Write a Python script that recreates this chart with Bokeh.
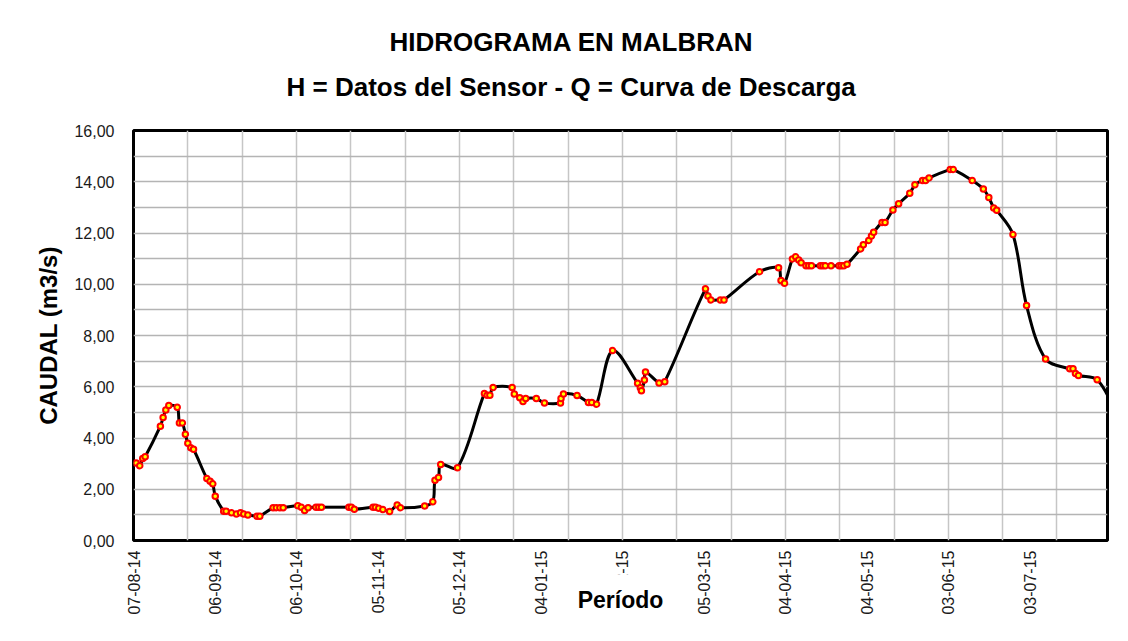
import numpy as np
from datetime import datetime
from bokeh.plotting import figure
from bokeh.models import Range1d, FixedTicker, Title, CustomJSTickFormatter, SingleIntervalTicker
from bokeh.embed import file_html
from bokeh.resources import INLINE

# ---------------- data ----------------
fecha_inicio = "07-08-14"   # origin of the period axis (dd-mm-yy)

# days elapsed since fecha_inicio
dias = [1.0, 2.3, 3.4, 4.3, 9.9, 10.9, 11.9, 13.0, 16.1, 16.9, 18.0, 19.1, 20.0, 21.1, 22.1,
        27.0, 28.2, 29.2, 30.1, 33.2, 34.1, 36.1, 37.9, 39.4, 40.6, 42.1, 45.5, 46.5,
        51.4, 52.6, 53.9, 55.1, 60.5, 61.8, 63.0, 64.3, 67.2, 68.2, 69.2, 79.3, 80.2, 81.3,
        88.2, 89.1, 90.3, 91.8, 94.3, 97.1, 98.3, 107.2, 110.2, 111.0, 112.3, 113.1, 119.3,
        129.2, 130.2, 131.2, 132.4, 139.4, 140.2, 142.2, 143.4, 144.4, 148.3, 151.3, 157.2,
        157.4, 158.3, 163.3, 167.5, 168.7, 170.5, 176.4, 185.6, 186.6, 187.0, 188.1, 188.5,
        193.5, 195.6, 210.6, 211.5, 212.6, 216.1, 217.4, 230.5, 237.5, 238.4, 239.7, 242.6,
        243.8, 244.9, 245.8, 247.6, 248.6, 249.6, 252.9, 253.8, 254.7, 256.8, 259.8, 260.6,
        261.5, 262.7, 267.7, 268.7, 270.7, 271.7, 272.5, 275.6, 276.7, 279.6, 281.7, 285.8,
        287.7, 290.5, 291.6, 292.9, 300.7, 301.8, 308.8, 312.9, 314.9, 316.7, 317.8, 323.8,
        328.8, 335.8, 344.7, 345.9, 346.8, 347.9, 354.8, 361.0]

caudal = [3.02, 2.92, 3.20, 3.27, 4.46, 4.80, 5.09, 5.27, 5.20, 4.59, 4.59, 4.15, 3.80, 3.62, 3.56,
          2.42, 2.31, 2.21, 1.73, 1.14, 1.14, 1.08, 1.03, 1.08, 1.03, 1.00, 0.95, 0.95,
          1.28, 1.28, 1.28, 1.28, 1.36, 1.30, 1.17, 1.28, 1.30, 1.30, 1.30, 1.30, 1.30, 1.22,
          1.30, 1.30, 1.26, 1.21, 1.13, 1.39, 1.28, 1.35, 1.51, 2.35, 2.46, 2.97, 2.84,
          5.74, 5.67, 5.67, 5.97, 5.97, 5.72, 5.57, 5.42, 5.54, 5.54, 5.37, 5.37,
          5.54, 5.72, 5.66, 5.39, 5.39, 5.32, 7.41, 6.14, 5.96, 5.84, 6.26, 6.58,
          6.15, 6.20, 9.82, 9.54, 9.39, 9.39, 9.39, 10.49, 10.64, 10.15, 10.04, 10.99,
          11.07, 10.95, 10.84, 10.72, 10.72, 10.72, 10.72, 10.72, 10.72, 10.72, 10.72, 10.72,
          10.72, 10.78, 11.38, 11.54, 11.71, 11.88, 12.03, 12.41, 12.41, 12.90, 13.14, 13.55,
          13.88, 14.05, 14.05, 14.15, 14.48, 14.48, 14.05, 13.72, 13.39, 12.98, 12.89, 11.94,
          9.17, 7.08, 6.70, 6.70, 6.52, 6.44, 6.27, 5.20]

etiquetas_x = ["07-08-14", "06-09-14", "06-10-14", "05-11-14", "05-12-14", "04-01-15",
               "03-02-15", "05-03-15", "04-04-15", "04-05-15", "03-06-15", "03-07-15"]

titulo_1 = "HIDROGRAMA EN MALBRAN"
titulo_2 = "H = Datos del Sensor - Q = Curva de Descarga"
titulo_y = "CAUDAL (m3/s)"
titulo_x = "Período"

# ---------------- layout ----------------
W, H = 1128, 641
FL, FR, FT, FB = 133, 1107, 130, 540        # frame edges in pixels
X_END = 358.6
Y_MAX = 16
FONT = "Liberation Sans"

t0 = datetime.strptime(fecha_inicio, "%d-%m-%y")
tick_pos = [(datetime.strptime(s, "%d-%m-%y") - t0).days for s in etiquetas_x]

p = figure(width=W, height=H, output_backend="svg", toolbar_location=None,
           x_range=Range1d(0, X_END), y_range=Range1d(0, Y_MAX),
           min_border_left=FL, min_border_right=W - FR,
           min_border_top=FT, min_border_bottom=H - FB)
p.background_fill_color = "white"
p.border_fill_color = "white"
p.outline_line_color = "black"
p.outline_line_width = 3

# grid
p.xgrid.ticker = FixedTicker(ticks=list(range(0, 360, 20)))
p.ygrid.ticker = SingleIntervalTicker(interval=1)
p.xgrid.grid_line_color = "#c6c6c6"
p.xgrid.grid_line_width = 1.5
p.ygrid.grid_line_color = "#b4b4b4"
p.ygrid.grid_line_width = 1.5

# axes
for ax in (p.xaxis[0], p.yaxis[0]):
    ax.axis_line_color = None
    ax.major_tick_line_color = None
    ax.minor_tick_line_color = None
    ax.major_tick_out = 0
    ax.major_label_text_font = FONT
    ax.major_label_text_font_size = "16px"
    ax.major_label_text_color = "#1a1a1a"
    ax.axis_label_text_font = FONT
    ax.axis_label_text_font_style = "bold"
    ax.axis_label_text_color = "black"

p.xaxis.ticker = FixedTicker(ticks=tick_pos)
p.xaxis.major_label_overrides = {t: s for t, s in zip(tick_pos, etiquetas_x)}
p.xaxis.major_label_orientation = np.pi / 2
p.xaxis.major_label_standoff = 10

p.yaxis.ticker = SingleIntervalTicker(interval=2)
p.yaxis.formatter = CustomJSTickFormatter(code="return tick.toFixed(2).replace('.', ',');")
p.yaxis.major_label_standoff = 15
p.yaxis.axis_label = titulo_y
p.yaxis.axis_label_text_font_size = "24px"
p.yaxis.axis_label_standoff = 9

# smoothed line through the points (chord-length Catmull-Rom Bezier, in pixel space)
kx = (FR - FL) / X_END
ky = (FB - FT) / Y_MAX
P = np.column_stack([np.array(dias) * kx, np.array(caudal) * ky])
seg = np.diff(P, axis=0)
d = np.hypot(seg[:, 0], seg[:, 1])
m = np.zeros_like(P)
m[0] = seg[0] / d[0]
m[-1] = seg[-1] / d[-1]
m[1:-1] = (P[2:] - P[:-2]) / (d[:-1] + d[1:])[:, None]
C1 = P[:-1] + m[:-1] * (d[:, None] / 3.0)
C2 = P[1:] - m[1:] * (d[:, None] / 3.0)
p.bezier(x0=P[:-1, 0] / kx, y0=P[:-1, 1] / ky, x1=P[1:, 0] / kx, y1=P[1:, 1] / ky,
         cx0=C1[:, 0] / kx, cy0=C1[:, 1] / ky, cx1=C2[:, 0] / kx, cy1=C2[:, 1] / ky,
         line_color="black", line_width=3)

p.scatter(dias, caudal, size=5.5, fill_color="#ffff00", line_color="#ff0000", line_width=2)

# titles (second line closest to the plot)
tstyle = dict(text_font=FONT, text_font_style="bold", text_font_size="26px",
              text_color="black", align="left", vertical_align="middle")
p.add_layout(Title(text=titulo_2, offset=153, standoff=55, **tstyle), "above")
p.add_layout(Title(text=titulo_1, offset=256, standoff=-29, **tstyle), "above")

# x-axis title, opaque, sitting over the tick labels as in the original chart
xt = Title(text=titulo_x, align="center", vertical_align="top", standoff=-86,
           text_font=FONT, text_font_style="bold", text_font_size="23px",
           text_color="black", background_fill_color="white")
if hasattr(xt, "padding"):
    xt.padding = 12
p.add_layout(xt, "below")

open("out.html", "w").write(file_html(p, INLINE))
